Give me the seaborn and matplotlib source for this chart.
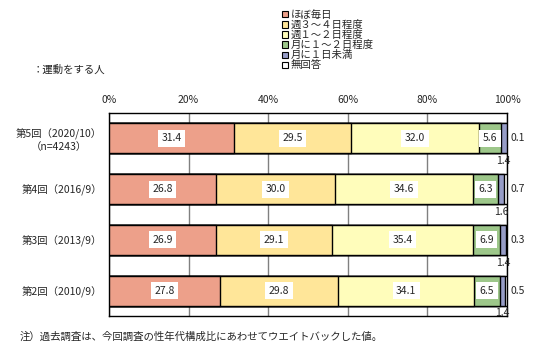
import matplotlib
matplotlib.use("Agg")
import matplotlib.pyplot as plt
from matplotlib.patches import Patch
import seaborn as sns
import pandas as pd
import numpy as np

# Survey rounds (top to bottom)
rounds = ["第5回（2020/10）\n（n=4243）", "第4回（2016/9）", "第3回（2013/9）", "第2回（2010/9）"]
categories = ["ほぼ毎日", "週３～４日程度", "週１～２日程度", "月に１～２日程度", "月に１日未満", "無回答"]
colors = ["#EDA08A", "#FFE699", "#FFFDBB", "#9DC78A", "#979DC7", "#FFFFFF"]

daily = [31.4, 26.8, 26.9, 27.8]
w3_4 = [29.5, 30.0, 29.1, 29.8]
w1_2 = [32.0, 34.6, 35.4, 34.1]
m1_2 = [5.6, 6.3, 6.9, 6.5]
m_less = [1.4, 1.6, 1.4, 1.4]
no_answer = [0.1, 0.7, 0.3, 0.5]

series = [daily, w3_4, w1_2, m1_2, m_less, no_answer]

df = pd.DataFrame({"round": rounds})
for cat, vals in zip(categories, series):
    df[cat] = vals
cum = df[categories].cumsum(axis=1)

sns.set_theme(style="white")
plt.rcParams["font.family"] = ["Noto Sans CJK JP", "DejaVu Sans"]

fig = plt.figure(figsize=(5.44, 3.55), dpi=100)
ax = fig.add_axes([109 / 544, 1 - 316 / 355, 398 / 544, 203 / 355])

# stacked bars: draw cumulative totals from the longest to the shortest
for cat, col in reversed(list(zip(categories, colors))):
    sns.barplot(data=cum.assign(round=rounds), x=cat, y="round", order=rounds,
                color=col, orient="h", width=0.59, edgecolor="black",
                linewidth=1, saturation=1, ax=ax, zorder=3)

ax.set_xlim(0, 100)
ax.set_ylim(3.5, -0.5)
ax.set_xticks(np.arange(0, 101, 20))
ax.set_xticklabels([f"{v}%" for v in range(0, 101, 20)], fontsize=7.5)
ax.xaxis.tick_top()
ax.tick_params(axis="x", length=0, pad=6)
ax.tick_params(axis="y", length=0, pad=5, labelsize=7.5)
for lbl in ax.get_yticklabels():
    lbl.set_multialignment("center")
ax.set_xlabel("")
ax.set_ylabel("")
ax.grid(axis="x", color="#808080", linewidth=1, zorder=0)
for s in ax.spines.values():
    s.set_color("black")
    s.set_linewidth(1)

# value labels
for i in range(len(rounds)):
    starts = [0] + list(cum.iloc[i, :-1])
    for j, cat in enumerate(categories):
        v = series[j][i]
        center = starts[j] + v / 2
        if j < 4:
            ax.text(center, i, f"{v:.1f}", ha="center", va="center", fontsize=7.5,
                    zorder=5, bbox=dict(facecolor="white", edgecolor="none", pad=2.5))
        elif j == 4:
            ax.text(center, i + 0.45, f"{v:.1f}", ha="center", va="center",
                    fontsize=7.5, zorder=5, clip_on=False)
        else:
            ax.text(101, i, f"{v:.1f}", ha="left", va="center", fontsize=7.5,
                    clip_on=False)

handles = [Patch(facecolor=c, edgecolor="black", linewidth=0.8) for c in colors]
fig.legend(handles, categories, loc="upper left", bbox_to_anchor=(282 / 544, 1 - 10 / 355),
           frameon=False, fontsize=7.5, handlelength=0.55, handleheight=0.55,
           handletextpad=0.3, labelspacing=0.0, borderpad=0, borderaxespad=0)

fig.text(33 / 544, 1 - 70 / 355, "：運動をする人", fontsize=7.5, va="center", ha="left")
fig.text(20 / 544, 1 - 337 / 355,
         "注）過去調査は、今回調査の性年代構成比にあわせてウエイトバックした値。",
         fontsize=7.5, va="center", ha="left")

fig.savefig("out.png", dpi=100)
